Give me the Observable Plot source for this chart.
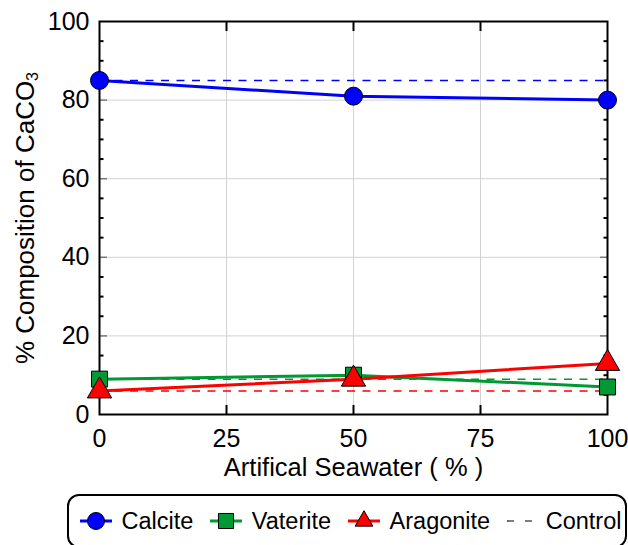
<!DOCTYPE html>
<html>
<head>
<meta charset="utf-8">
<script src="https://cdn.jsdelivr.net/npm/d3@7"></script>
<script src="https://cdn.jsdelivr.net/npm/@observablehq/plot@0.6"></script>
<style>
  html, body { margin: 0; padding: 0; background: #fff; }
  body { width: 628px; height: 545px; overflow: hidden; position: relative;
         font-family: "Liberation Sans", Arial, Helvetica, sans-serif; color: #000; }
  #chart svg { display: block; }
  .legend { position: absolute; left: 67px; top: 494px; width: 560px; height: 54px;
            box-sizing: border-box; border: 2px solid #000; border-radius: 12px;
            display: flex; align-items: center; padding-left: 11px; font-size: 23.5px; }
  .legend .item { display: flex; align-items: center; margin-right: 17px; }
  .legend svg { display: block; margin-right: 9.5px; overflow: visible; }
</style>
</head>
<body>
<div id="chart"></div>
<script>
// Seawater fraction (x) and CaCO3 polymorph composition (%)
const seawater = [0, 50, 100];
const calcite = [85, 81, 80];
const vaterite = [9, 10, 7];
const aragonite = [6, 9, 13];

// Control (0 % seawater reference) levels for each polymorph
const controlValues = [85, 9, 6];

const phases = ["Calcite", "Vaterite", "Aragonite"];
const colors = ["#0000ff", "#009933", "#ff0000"];
const symbols = ["circle", "square", "triangle"];

const xTicks = [0, 25, 50, 75, 100];
const yTicks = [0, 20, 40, 60, 80, 100];
const xTitle = "Artifical Seawater ( % )";
const yTitle = "% Composition of CaCO3";
const controlLabel = "Control";

const series = [calcite, vaterite, aragonite];
const rows = phases.flatMap((phase, i) =>
  seawater.map((s, j) => ({phase, seawater: s, value: series[i][j], color: colors[i], symbol: symbols[i]}))
);
const controls = phases.map((phase, i) => ({phase, value: controlValues[i], color: colors[i]}));

const innerX = xTicks.slice(1, -1);
const innerY = yTicks.slice(1, -1);
const minorY = d3.range(0, 101, 5).filter(v => v % 20 !== 0);

const font = "Liberation Sans, Arial, Helvetica, sans-serif";

const chart = Plot.plot({
  width: 628,
  height: 488,
  marginLeft: 99,
  marginRight: 21,
  marginTop: 21,
  marginBottom: 74,
  style: {fontFamily: font, fontSize: "25px", background: "#fff", color: "#000"},
  x: {domain: [0, 100], label: null},
  y: {domain: [0, 100], label: null},
  color: {type: "identity"},
  symbol: {type: "identity"},
  marks: [
    Plot.gridX(innerX, {stroke: "#d2d2d2", strokeOpacity: 1, strokeWidth: 1}),
    Plot.gridY(innerY, {stroke: "#d2d2d2", strokeOpacity: 1, strokeWidth: 1}),

    // tick labels
    Plot.axisY(yTicks, {anchor: "left", tickSize: 0, tickPadding: 10, label: null, fontSize: 25}),
    Plot.axisX(xTicks, {anchor: "bottom", tickSize: 0, tickPadding: 15, label: null, fontSize: 25}),

    // inward tick marks on all four sides
    Plot.axisY(minorY, {anchor: "left", tickSize: 4.5, dx: 4.5, fill: "none", label: null, strokeWidth: 2}),
    Plot.axisY(minorY, {anchor: "right", tickSize: 4.5, dx: -4.5, fill: "none", label: null, strokeWidth: 2}),
    Plot.axisY(innerY, {anchor: "left", tickSize: 8, dx: 8, fill: "none", label: null, stroke: "#777", strokeWidth: 1.5}),
    Plot.axisY(innerY, {anchor: "right", tickSize: 8, dx: -8, fill: "none", label: null, stroke: "#777", strokeWidth: 1.5}),
    Plot.axisX(innerX, {anchor: "bottom", tickSize: 9, dy: -9, fill: "none", label: null, strokeWidth: 2}),
    Plot.axisX(innerX, {anchor: "top", tickSize: 9, dy: 9, fill: "none", label: null, strokeWidth: 2}),

    // control reference levels
    Plot.ruleY(controls, {y: "value", stroke: "color", strokeWidth: 1.5, strokeDasharray: "8,7.5"}),

    Plot.frame({stroke: "#000", strokeWidth: 2}),

    Plot.line(rows, {x: "seawater", y: "value", z: "phase", stroke: "color", strokeWidth: 3}),
    Plot.dot(rows, {x: "seawater", y: "value", fill: "color", symbol: "symbol", r: 9, stroke: "#000", strokeWidth: 1}),

    // axis titles
    Plot.text([xTitle], {frameAnchor: "bottom", lineAnchor: "bottom", textAnchor: "middle", dy: 61, fontSize: 25.5, fill: "#000"}),
    Plot.text([yTitle], {frameAnchor: "left", lineAnchor: "bottom", textAnchor: "middle", rotate: -90, dx: -66, fontSize: 26, fill: "#000"})
  ]
});

// subscript for the formula in the y title
d3.select(chart).selectAll("text").filter(function () { return this.textContent === yTitle; })
  .each(function () {
    const t = d3.select(this);
    t.text(yTitle.slice(0, -1));
    t.append("tspan").attr("font-size", "0.62em").attr("dy", "0.3em").text(yTitle.slice(-1));
  });

document.getElementById("chart").append(chart);

// legend below the chart
const legend = d3.select("body").append("div").attr("class", "legend");
phases.forEach((phase, i) => {
  const item = legend.append("div").attr("class", "item");
  const sw = item.append("svg").attr("width", 32).attr("height", 22);
  sw.append("line").attr("x1", 0).attr("x2", 32).attr("y1", 11).attr("y2", 11)
    .attr("stroke", colors[i]).attr("stroke-width", 3);
  const type = {circle: d3.symbolCircle, square: d3.symbolSquare, triangle: d3.symbolTriangle2}[symbols[i]];
  sw.append("path").attr("transform", "translate(16,11)")
    .attr("d", d3.symbol(type, Math.PI * 8.5 * 8.5)())
    .attr("fill", colors[i]).attr("stroke", "#000").attr("stroke-width", 1);
  item.append("span").text(phase);
});
const ctrl = legend.append("div").attr("class", "item");
const csw = ctrl.append("svg").attr("width", 25).attr("height", 22).style("margin-right", "13.5px");
csw.append("line").attr("x1", 0).attr("x2", 25).attr("y1", 11).attr("y2", 11)
  .attr("stroke", "#000").attr("stroke-width", 1.2).attr("stroke-dasharray", "7,11");
ctrl.append("span").text(controlLabel);
</script>
</body>
</html>
